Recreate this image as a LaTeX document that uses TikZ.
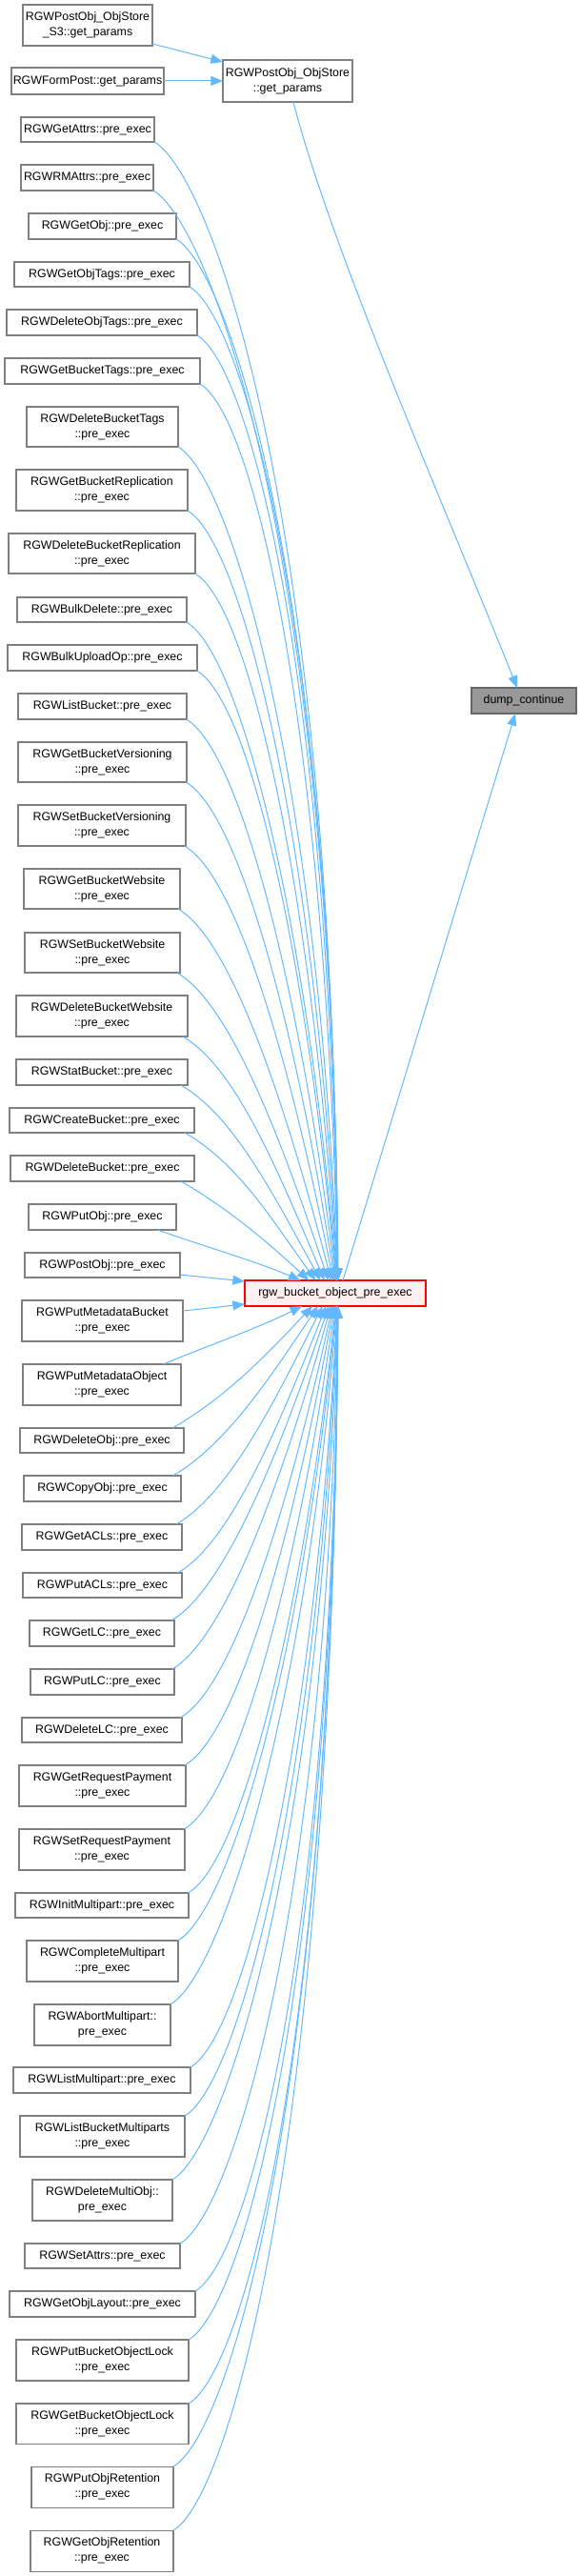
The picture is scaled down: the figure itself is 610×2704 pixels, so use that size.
\documentclass[tikz,border=0pt]{standalone}
\usepackage{fontspec}
\setmainfont{Liberation Sans}
\usetikzlibrary{arrows.meta,calc}
\definecolor{edgec}{HTML}{63B8FF}
\definecolor{boxd}{HTML}{808080}
\definecolor{curf}{HTML}{FFF0F0}
\definecolor{curd}{HTML}{FF0000}
\definecolor{leaff}{HTML}{999999}
\definecolor{leafd}{HTML}{666666}
\newdimen\exSx \newdimen\exSy
\tikzset{
 box/.style={draw=boxd, fill=white, line width=0.8pt, inner sep=0pt, outer sep=0pt, align=center, font=\fontsize{9.3}{12}\selectfont},
 cur/.style={box, draw=curd, fill=curf},
 leaf/.style={box, draw=leafd, fill=leaff},
 edge/.style={draw=edgec, line width=0.75pt, -{Triangle[length=9.5pt,width=7.5pt]}},
}
% [style]{name}{x1}{x2}{y1}{y2}{text}  (pixel coordinates of the reference)
\newcommand\nd[7][box]{\node[#1, minimum width={(#4-#3)*0.75pt}, minimum height={(#6-#5)*0.75pt}] (#2) at ({(#3+#4)/2},{(#5+#6)/2}) {#7};}
\newcommand\edgeCalc{%
 \pgfmathsetmacro\eXT{355-40*exp(-(\eDY-50)/200)}%
 \pgfmathsetmacro\eIN{20*exp(-(\eDY-50)/150)}%
 \pgfmathsetmacro\eDX{\eXT-(\eSX-\eIN)}%
 \pgfmathsetmacro\eTC{atan2(\eDY,\eDX)}%
 \pgfmathsetmacro\eTS{min(30,\eTC)}%
 \pgfmathsetmacro\eW{min(0.95,\eDY/1100)}%
 \pgfmathsetmacro\eTE{\eTC+(90-\eTC)*\eW}%
 \pgfmathsetmacro\eCH{100*veclen(\eDX/100,\eDY/100)}%
 \pgfmathsetmacro\eLA{min(65,\eCH/3)}%
 \pgfmathsetmacro\eLB{\eCH*(0.33+0.36*min(1,\eDY/1200))}%
 \pgfmathsetmacro\eAX{\eLA*cos(\eTS)}%
 \pgfmathsetmacro\eAY{\eLA*sin(\eTS)}%
 \pgfmathsetmacro\eBX{-\eLB*cos(\eTE)}%
 \pgfmathsetmacro\eBY{\eLB*sin(\eTE)}%
 \pgfmathsetmacro\eXO{\eXT-257}%
}
\newcommand\edgeUp[1]{%
 \pgfextractx{\exSx}{\pgfpointanchor{#1}{south east}}%
 \pgfextracty{\exSy}{\pgfpointanchor{#1}{south east}}%
 \pgfmathsetmacro\eSX{\exSx/0.75}%
 \pgfmathsetmacro\eSY{-\exSy/0.75}%
 \pgfmathsetmacro\eDY{1344-\eSY}%
 \edgeCalc
 \draw[edge] ($(#1.south east)+(-\eIN,0)$) .. controls +(\eAX,\eAY) and +(\eBX,-\eBY) .. ($(rgw.north west)+(\eXO,0)$);%
}
\newcommand\edgeDown[1]{%
 \pgfextractx{\exSx}{\pgfpointanchor{#1}{north east}}%
 \pgfextracty{\exSy}{\pgfpointanchor{#1}{north east}}%
 \pgfmathsetmacro\eSX{\exSx/0.75}%
 \pgfmathsetmacro\eSY{-\exSy/0.75}%
 \pgfmathsetmacro\eDY{\eSY-1371}%
 \edgeCalc
 \draw[edge] ($(#1.north east)+(-\eIN,0)$) .. controls +(\eAX,-\eAY) and +(\eBX,\eBY) .. ($(rgw.south west)+(\eXO,0)$);%
}
\begin{document}
\begin{tikzpicture}[x=0.75pt,y=-0.75pt]
\useasboundingbox (0,0) rectangle (610,2704);
% top group
\nd{A}{24}{160}{5}{48}{RGWPostObj\_ObjStore\\\_S3::get\_params}
\nd{B}{12}{172}{71}{99}{RGWFormPost::get\_params}
\nd{C}{234}{370}{63}{107}{RGWPostObj\_ObjStore\\::get\_params}
\nd[leaf]{dump}{495}{605}{722}{749}{dump\_continue}
\nd[cur]{rgw}{257}{447}{1344}{1371}{rgw\_bucket\_object\_pre\_exec}
% left column
\nd{GetAttrs}{22}{162}{123}{149}{RGWGetAttrs::pre\_exec}
\nd{RMAttrs}{22}{161}{173}{200}{RGWRMAttrs::pre\_exec}
\nd{GetObj}{30}{185}{224}{251}{RGWGetObj::pre\_exec}
\nd{GetObjTags}{15}{199}{275}{301}{RGWGetObjTags::pre\_exec}
\nd{DeleteObjTags}{7}{207}{325}{352}{RGWDeleteObjTags::pre\_exec}
\nd{GetBucketTags}{5}{210}{376}{403}{RGWGetBucketTags::pre\_exec}
\nd{DeleteBucketTags}{28}{187}{427}{469}{RGWDeleteBucketTags\\::pre\_exec}
\nd{GetBucketReplication}{17}{197}{493}{536}{RGWGetBucketReplication\\::pre\_exec}
\nd{DeleteBucketReplication}{9}{205}{560}{602}{RGWDeleteBucketReplication\\::pre\_exec}
\nd{BulkDelete}{18}{196}{627}{653}{RGWBulkDelete::pre\_exec}
\nd{BulkUploadOp}{8}{207}{677}{704}{RGWBulkUploadOp::pre\_exec}
\nd{ListBucket}{19}{196}{728}{755}{RGWListBucket::pre\_exec}
\nd{GetBucketVersioning}{19}{196}{779}{821}{RGWGetBucketVersioning\\::pre\_exec}
\nd{SetBucketVersioning}{19}{195}{845}{888}{RGWSetBucketVersioning\\::pre\_exec}
\nd{GetBucketWebsite}{25}{189}{912}{954}{RGWGetBucketWebsite\\::pre\_exec}
\nd{SetBucketWebsite}{26}{189}{979}{1021}{RGWSetBucketWebsite\\::pre\_exec}
\nd{DeleteBucketWebsite}{17}{197}{1045}{1088}{RGWDeleteBucketWebsite\\::pre\_exec}
\nd{StatBucket}{17}{197}{1112}{1139}{RGWStatBucket::pre\_exec}
\nd{CreateBucket}{10}{204}{1163}{1189}{RGWCreateBucket::pre\_exec}
\nd{DeleteBucket}{11}{204}{1213}{1240}{RGWDeleteBucket::pre\_exec}
\nd{PutObj}{30}{185}{1264}{1291}{RGWPutObj::pre\_exec}
\nd{PostObj}{26}{189}{1315}{1341}{RGWPostObj::pre\_exec}
\nd{PutMetadataBucket}{23}{192}{1365}{1408}{RGWPutMetadataBucket\\::pre\_exec}
\nd{PutMetadataObject}{24}{190}{1432}{1475}{RGWPutMetadataObject\\::pre\_exec}
\nd{DeleteObj}{21}{193}{1499}{1525}{RGWDeleteObj::pre\_exec}
\nd{CopyObj}{25}{190}{1549}{1576}{RGWCopyObj::pre\_exec}
\nd{GetACLs}{23}{191}{1600}{1627}{RGWGetACLs::pre\_exec}
\nd{PutACLs}{24}{191}{1651}{1677}{RGWPutACLs::pre\_exec}
\nd{GetLC}{31}{183}{1701}{1728}{RGWGetLC::pre\_exec}
\nd{PutLC}{32}{183}{1752}{1779}{RGWPutLC::pre\_exec}
\nd{DeleteLC}{23}{191}{1803}{1829}{RGWDeleteLC::pre\_exec}
\nd{GetRequestPayment}{20}{195}{1853}{1896}{RGWGetRequestPayment\\::pre\_exec}
\nd{SetRequestPayment}{20}{194}{1920}{1963}{RGWSetRequestPayment\\::pre\_exec}
\nd{InitMultipart}{16}{198}{1987}{2013}{RGWInitMultipart::pre\_exec}
\nd{CompleteMultipart}{28}{187}{2037}{2080}{RGWCompleteMultipart\\::pre\_exec}
\nd{AbortMultipart}{36}{179}{2104}{2147}{RGWAbortMultipart::\\pre\_exec}
\nd{ListMultipart}{14}{200}{2170}{2197}{RGWListMultipart::pre\_exec}
\nd{ListBucketMultiparts}{21}{194}{2221}{2264}{RGWListBucketMultiparts\\::pre\_exec}
\nd{DeleteMultiObj}{34}{181}{2288}{2331}{RGWDeleteMultiObj::\\pre\_exec}
\nd{SetAttrs}{26}{189}{2355}{2381}{RGWSetAttrs::pre\_exec}
\nd{GetObjLayout}{10}{205}{2405}{2432}{RGWGetObjLayout::pre\_exec}
\nd{PutBucketObjectLock}{17}{198}{2456}{2499}{RGWPutBucketObjectLock\\::pre\_exec}
\nd{GetBucketObjectLock}{17}{198}{2523}{2565}{RGWGetBucketObjectLock\\::pre\_exec}
\nd{PutObjRetention}{33}{182}{2589}{2632}{RGWPutObjRetention\\::pre\_exec}
\nd{GetObjRetention}{32}{182}{2656}{2699}{RGWGetObjRetention\\::pre\_exec}
% edges of the top group
\draw[edge] ($(A.south east)+(0,-2)$) -- ($(C.north west)+(0,2)$);
\draw[edge] (B.east) -- (C.west);
\draw[edge] ($(C.south west)+(74,0)$) .. controls +(40,155) and +(-80,-200) .. ($(dump.north west)+(48,0)$);
\draw[edge] ($(rgw.north west)+(103,0)$) -- ($(dump.south west)+(46,0)$);
% edges into rgw_bucket_object_pre_exec
\foreach \n in {GetAttrs,RMAttrs,GetObj,GetObjTags,DeleteObjTags,GetBucketTags,DeleteBucketTags,GetBucketReplication,DeleteBucketReplication,BulkDelete,BulkUploadOp,ListBucket,GetBucketVersioning,SetBucketVersioning,GetBucketWebsite,SetBucketWebsite,DeleteBucketWebsite,StatBucket,CreateBucket,DeleteBucket,PutObj}{\edgeUp{\n}}
\draw[edge] ($(PostObj.south east)+(0,-3)$) -- ($(rgw.north west)+(0,1)$);
\draw[edge] ($(PutMetadataBucket.north east)+(0,11)$) -- ($(rgw.south west)+(0,-2)$);
\foreach \n in {PutMetadataObject,DeleteObj,CopyObj,GetACLs,PutACLs,GetLC,PutLC,DeleteLC,GetRequestPayment,SetRequestPayment,InitMultipart,CompleteMultipart,AbortMultipart,ListMultipart,ListBucketMultiparts,DeleteMultiObj,SetAttrs,GetObjLayout,PutBucketObjectLock,GetBucketObjectLock,PutObjRetention,GetObjRetention}{\edgeDown{\n}}
\end{tikzpicture}
\end{document}
